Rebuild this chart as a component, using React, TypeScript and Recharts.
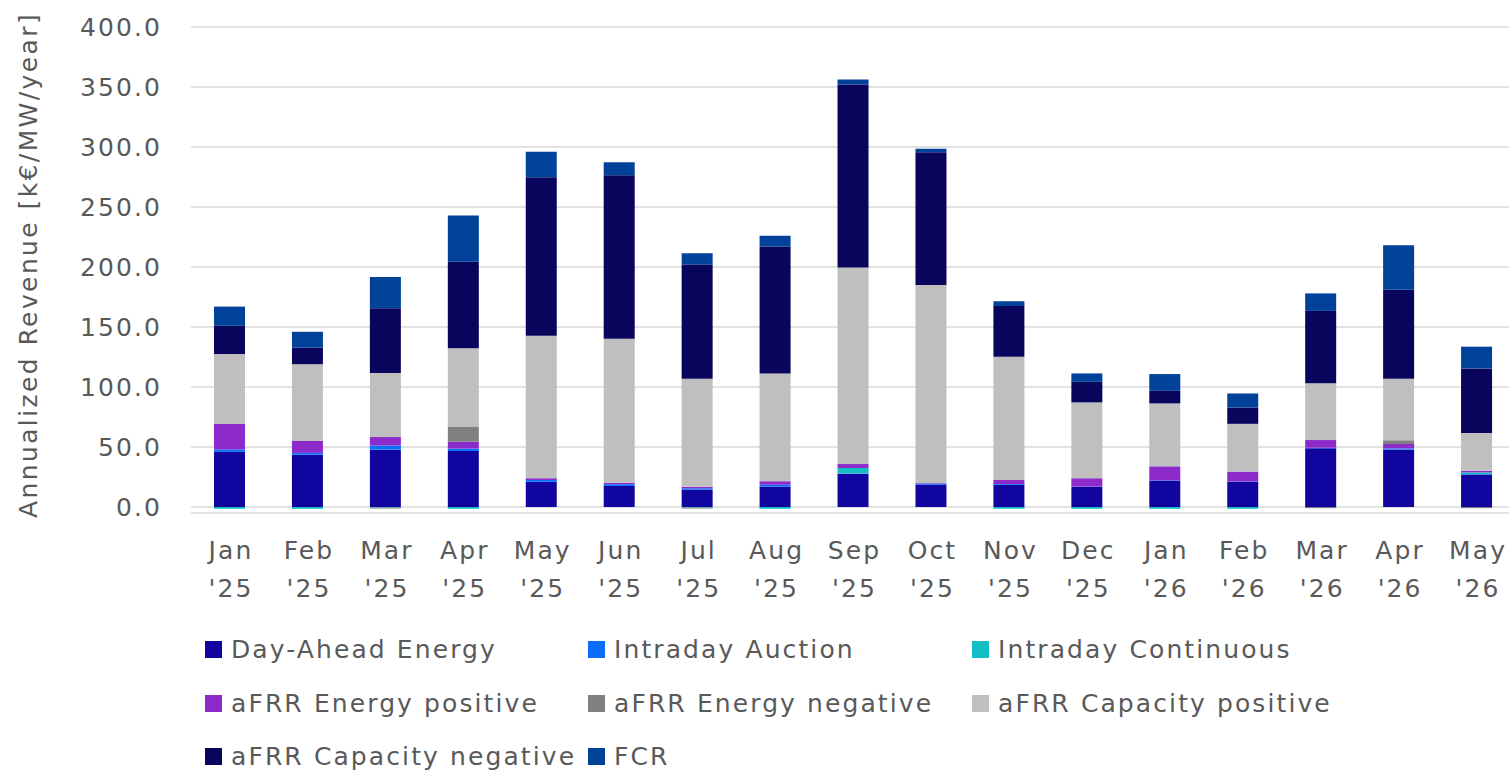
import React from "react";
import { BarChart, Bar, XAxis, YAxis, CartesianGrid, Legend } from "recharts";

const categories = ["Jan '25", "Feb '25", "Mar '25", "Apr '25", "May '25", "Jun '25", "Jul '25", "Aug '25", "Sep '25", "Oct '25", "Nov '25", "Dec '25", "Jan '26", "Feb '26", "Mar '26", "Apr '26", "May '26"];

const dayAhead = [46, 43.6, 47.8, 46.7, 21, 17.5, 14.4, 17, 27.8, 18.6, 18.6, 16.7, 22, 21, 48.9, 47.8, 27];
const intradayAuction = [2, 1.5, 3.5, 2, 1.5, 1.5, 1.2, 1.5, 0.3, 1, 0.5, 0.3, 0.3, 0.3, 0.5, 1, 0.3];
const intradayContinuous = [-1.5, -1.5, -0.5, -1.5, 0, 0, -0.5, -1.5, 4.4, 0, -1.5, -1.5, -1.5, -1.5, 0, 0, 1.5];
const afrrEnergyPos = [21.4, 9.9, 7, 5.7, 1.5, 1, 1.2, 3, 3.3, 0.5, 3.3, 7, 11.6, 8.2, 6.4, 3.7, 1.4];
const afrrEnergyNeg = [0, 0, -0.8, 12.3, 0, 0, -0.8, 0, 0, 0, 0, 0, 0, 0, -1, 3.1, -1];
const afrrCapacityPos = [58.1, 64, 53.4, 65.5, 118.8, 120.3, 90.1, 89.8, 163.7, 164.9, 102.9, 63.2, 52.4, 39.8, 47.4, 51.3, 31.5];
const afrrCapacityNeg = [23.5, 13.8, 53.9, 72.2, 131.9, 136.1, 95.1, 105.7, 152.5, 110.7, 42.3, 17.1, 10.5, 13.6, 60.2, 74.1, 53.8];
const fcr = [16, 13.2, 26.1, 38.6, 21.3, 10.9, 9.5, 9, 4.3, 2.8, 3.9, 7, 14, 11.7, 14.6, 37.2, 18.1];

const yTicks = [0, 50, 100, 150, 200, 250, 300, 350, 400];

const series = [
  { key: "da", name: "Day-Ahead Energy", values: dayAhead, color: "#10069F" },
  { key: "ida", name: "Intraday Auction", values: intradayAuction, color: "#0A6EFA" },
  { key: "idc", name: "Intraday Continuous", values: intradayContinuous, color: "#12BFC4" },
  { key: "ep", name: "aFRR Energy positive", values: afrrEnergyPos, color: "#8D2ACA" },
  { key: "en", name: "aFRR Energy negative", values: afrrEnergyNeg, color: "#808080" },
  { key: "cp", name: "aFRR Capacity positive", values: afrrCapacityPos, color: "#BFBFBF" },
  { key: "cn", name: "aFRR Capacity negative", values: afrrCapacityNeg, color: "#0A055C" },
  { key: "fcr", name: "FCR", values: fcr, color: "#004299" },
];

const data = categories.map((c, i) => {
  const row: any = { cat: c };
  series.forEach((s) => (row[s.key] = s.values[i]));
  return row;
});

const FONT = "'DejaVu Sans', Lato, sans-serif";
const TEXT = "#595959";
const FS = 25;
const LS = 2.1;

const XTick = (props: any) => {
  const { x, y, payload } = props;
  const [m, yr] = String(payload.value).split(" ");
  return (
    <text x={x} y={y} textAnchor="middle" fill={TEXT} fontFamily={FONT} fontSize={FS} letterSpacing={LS}>
      <tspan x={x + LS / 2} dy={38}>{m}</tspan>
      <tspan x={x + LS / 2} dy={38}>{yr}</tspan>
    </text>
  );
};

const LegendContent = () => (
  <div style={{ display: "grid", gridTemplateColumns: "383px 384px 383px", rowGap: 0, fontFamily: FONT, fontSize: FS, color: TEXT, letterSpacing: LS }}>
    {series.map((s) => (
      <div key={s.key} style={{ display: "flex", alignItems: "center", height: 53.5, whiteSpace: "nowrap" }}>
        <span style={{ display: "inline-block", width: 17, height: 17, background: s.color, marginRight: 9 }} />
        <span>{s.name}</span>
      </div>
    ))}
  </div>
);

export default function App() {
  return (
    <div style={{ position: "absolute", left: 0, top: 0, width: 1509, height: 775, overflow: "hidden", background: "#fff" }}>
      <BarChart width={1516} height={775} data={data} stackOffset="sign" barSize={31}
        margin={{ top: 27, right: 0, bottom: 182, left: 0 }}>
        <CartesianGrid vertical={false} stroke="#D9D9D9" strokeWidth={1.5} />
        <XAxis dataKey="cat" axisLine={false} tickLine={false} interval={0} height={80} tick={<XTick />} />
        <YAxis width={191} domain={[-5, 400]} ticks={yTicks} allowDataOverflow axisLine={false} tickLine={false}
          tickSize={0} tickMargin={29}
          tickFormatter={(v: number) => v.toFixed(1)}
          tick={{ fill: TEXT, fontFamily: FONT, fontSize: FS, letterSpacing: LS }}
          label={{
            content: () => (
              <text transform="translate(37,265) rotate(-90)" textAnchor="middle" fill={TEXT} fontFamily={FONT} fontSize={FS} letterSpacing={2.4}>
                Annualized Revenue [k€/MW/year]
              </text>
            ),
          }} />
        {series.map((s) => (
          <Bar key={s.key} dataKey={s.key} name={s.name} stackId="a" fill={s.color} isAnimationActive={false} />
        ))}
        <Legend layout="horizontal" verticalAlign="middle" align="center" content={<LegendContent />}
          wrapperStyle={{ position: "absolute", left: 205, top: 623, width: 1200 }} />
      </BarChart>
    </div>
  );
}
